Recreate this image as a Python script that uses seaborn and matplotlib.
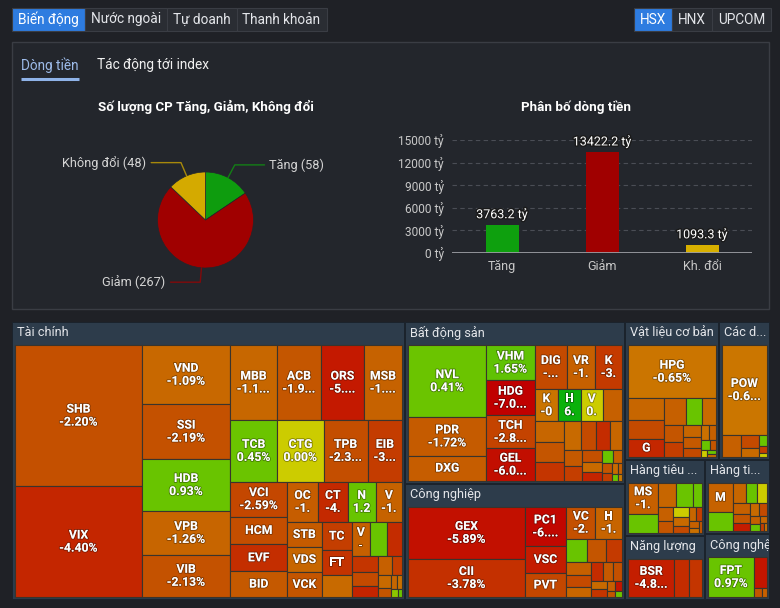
import numpy as np
import matplotlib
matplotlib.use('Agg')
import matplotlib.pyplot as plt
import matplotlib.patheffects as pe
from matplotlib.patches import Rectangle
from matplotlib.font_manager import FontProperties
from matplotlib.colors import to_rgb
from matplotlib.transforms import Bbox
import seaborn as sns

sns.set_style('dark')
FAM = ['Roboto', 'DejaVu Sans']
plt.rcParams['font.family'] = FAM
plt.rcParams['axes.unicode_minus'] = False

W, H = 780, 608
BG = '#1f2126'
PANEL = '#23262c'
HEADER = '#2d3c4b'
TEXT = '#e4e6ea'

# ---------------- data ----------------
top_tabs = ['Biến động', 'Nước ngoài', 'Tự doanh', 'Thanh khoản']
exch_tabs = ['HSX', 'HNX', 'UPCOM']
sub_tabs = ['Dòng tiền', 'Tác động tới index']

pie_title = 'Số lượng CP Tăng, Giảm, Không đổi'
pie_labels = ['Tăng', 'Giảm', 'Không đổi']
pie_counts = [58, 267, 48]
pie_colors = ['#0e9c0e', '#a00000', '#d4aa00']

bar_title = 'Phân bố dòng tiền'
flow_labels = ['Tăng', 'Giảm', 'Kh. đổi']
flow_values = [3763.2, 13422.2, 1093.3]
flow_colors = ['#0ea00e', '#a00000', '#d8b000']
bar_ticks = [0, 3000, 6000, 9000, 12000, 15000]

# treemap: one set of arrays per sector
tc_tickers = ['SHB', 'VIX', 'VND', 'SSI', 'HDB', 'VPB', 'VIB', 'MBB', 'ACB', 'ORS', 'MSB',
              'TCB', 'CTG', 'TPB', 'EIB', 'VCI', 'HCM', 'EVF', 'BID', 'OC', 'CT', 'N', 'V',
              'STB', 'VDS', 'VCK', 'TC', 'FT', '', 'V'] + [''] * 13
tc_values = [19500, 15300, 5700, 5220, 5030, 4160, 4070, 3800, 3630, 3470, 3150, 3140, 3120,
             2930, 2320, 2160, 1720, 1660, 1600, 1350, 1310, 1220, 1170, 935, 935, 935, 920,
             820, 725, 660, 640, 550, 460, 395, 330, 275, 220, 175, 130, 100, 75, 55, 40]
tc_pct = [-2.20, -4.40, -1.09, -2.19, 0.93, -1.26, -2.13, -1.15, -1.93, -5.20, -1.40, 0.45,
          0.00, -2.30, -3.10, -2.59, -2.30, -3.90, -1.80, -1.60, -4.20, 1.20, -1.40, -1.70,
          -1.20, -2.00, -3.00, -3.60, -1.00, -1.50, 1.00, -4.00, -3.50, -2.50, -4.50, -1.50,
          -3.00, -1.00, -2.00, -1.20, -0.80, 0.20, 1.00]

bds_tickers = ['NVL', 'PDR', 'DXG', 'VHM', 'HDG', 'TCH', 'GEL', 'DIG', 'VR', 'K', 'K', 'H',
               'V', ''] + [''] * 20
bds_values = [6700, 3540, 2330, 2030, 2020, 1920, 1860, 1680, 1480, 1420, 900, 870, 830, 725,
              750, 700, 630, 580, 520, 460, 410, 360, 315, 280, 240, 205, 170, 145, 120, 97,
              73, 60, 48, 36]
bds_pct = [0.41, -1.72, -1.60, 1.65, -7.00, -2.80, -6.00, -2.50, -1.50, -3.20, -0.70, 6.00,
           0.00, -1.20, -1.50, -2.00, -3.50, -1.00, -2.50, -4.00, -1.20, -1.80, -3.00, -2.20,
           -1.00, -4.50, 0.90, -1.50, -2.00, -3.00, -1.00, -1.50, 0.30, -0.50]

cn_tickers = ['GEX', 'CII', 'PC1', 'VSC', 'PVT', 'VC', 'H'] + [''] * 15
cn_values = [7820, 5680, 2120, 1450, 1290, 1190, 1100, 625, 545, 495, 430, 375, 325, 285, 245,
             210, 170, 145, 115, 90, 70, 52]
cn_pct = [-5.89, -3.78, -6.50, -5.00, -2.60, -2.20, -1.30, 1.00, -2.00, -3.20, -1.50, -2.50,
          -1.20, -4.00, -1.80, -2.20, -1.00, -3.50, -1.50, -5.50, -2.00, 0.80]

vl_tickers = ['HPG', '', '', 'G'] + [''] * 15
vl_values = [5990, 1005, 900, 800, 720, 540, 465, 400, 350, 295, 245, 205, 170, 130, 105, 77,
             58, 45, 32]
vl_pct = [-0.65, -1.20, -2.50, -4.30, -1.50, 1.00, -1.00, -2.00, -3.00, -1.20, -1.80, -2.50,
          -0.80, -1.50, 1.00, -2.00, 0.00, 1.20, -1.00]

dv_tickers = ['POW', '', '', '', '', '', '']
dv_values = [5500, 560, 330, 200, 120, 66, 40]
dv_pct = [-0.62, -1.50, -2.50, -1.00, 1.00, -3.00, 0.00]

h1_tickers = ['MS'] + [''] * 14
h1_values = [1485, 890, 725, 660, 365, 330, 280, 250, 215, 180, 150, 125, 100, 75, 58]
h1_pct = [-1.50, 0.90, -1.20, 0.80, 0.60, -1.50, -2.00, 0.00, -1.00, -2.50, -1.20, -3.00,
          -1.50, -0.80, -2.00]

h2_tickers = ['M'] + [''] * 14
h2_values = [1210, 780, 445, 375, 330, 300, 255, 225, 195, 165, 135, 105, 82, 60, 45]
h2_pct = [-1.40, 0.90, -1.20, 1.00, 0.00, -1.50, -2.00, -5.00, -1.00, -2.50, -1.50, 1.00,
          -1.20, -3.00, -0.80]

nl_tickers = ['BSR', '', '']
nl_values = [3120, 970, 900]
nl_pct = [-4.85, -4.00, -3.50]

it_tickers = ['FPT', '', '', '']
it_values = [3250, 700, 130, 80]
it_pct = [0.97, -5.50, -2.00, -1.50]

sectors = [
    ('Tài chính', tc_tickers, tc_values, tc_pct),
    ('Bất động sản', bds_tickers, bds_values, bds_pct),
    ('Công nghiệp', cn_tickers, cn_values, cn_pct),
    ('Vật liệu cơ bản', vl_tickers, vl_values, vl_pct),
    ('Các dịch vụ hạ tầng', dv_tickers, dv_values, dv_pct),
    ('Hàng tiêu dùng thiết yếu', h1_tickers, h1_values, h1_pct),
    ('Năng lượng', nl_tickers, nl_values, nl_pct),
    ('Hàng tiêu dùng không thiết yếu', h2_tickers, h2_values, h2_pct),
    ('Công nghệ', it_tickers, it_values, it_pct),
]

# colour scale for % change
color_stops = [-7, -5, -4, -3, -2, -1, -0.5, 0, 0.3, 1.5, 3, 7]
color_list = ['#c00000', '#c41c00', '#c42c00', '#c43e00', '#c45500', '#c86a00', '#cc7a00',
              '#cccc00', '#6cc400', '#66c400', '#2db22d', '#00b000']
stop_rgb = np.array([to_rgb(c) for c in color_list])


def pct_color(p):
    return tuple(np.interp(p, color_stops, stop_rgb[:, k]) for k in range(3))


PHI = (1 + 5 ** 0.5) / 2


def squarify(values, x0, y0, x1, y1):
    # d3-style squarified treemap (golden ratio), y grows downwards
    order = sorted(range(len(values)), key=lambda i: -values[i])
    vals = [values[i] for i in order]
    rects = [None] * len(values)
    total = float(sum(vals))
    n = len(vals)
    i0 = 0
    while i0 < n:
        dx, dy = max(x1 - x0, 1e-6), max(y1 - y0, 1e-6)
        s = vals[i0]
        vmin = vmax = s
        alpha = max(dy / dx, dx / dy) / (total * PHI)
        beta = s * s * alpha
        best = max(vmax / beta, beta / vmin)
        i1 = i0 + 1
        while i1 < n:
            v = vals[i1]
            s2 = s + v
            beta = s2 * s2 * alpha
            r = max(max(vmax, v) / beta, beta / min(vmin, v))
            if r > best:
                break
            s, best = s2, r
            vmin, vmax = min(vmin, v), max(vmax, v)
            i1 += 1
        if dx < dy:
            yb = y0 + dy * s / total
            xx = x0
            for k in range(i0, i1):
                w = dx * vals[k] / s
                rects[order[k]] = (xx, y0, w, yb - y0)
                xx += w
            y0 = yb
        else:
            xb = x0 + dx * s / total
            yy = y0
            for k in range(i0, i1):
                h = dy * vals[k] / s
                rects[order[k]] = (x0, yy, xb - x0, h)
                yy += h
            x0 = xb
        total -= s
        i0 = i1
    return rects


# ---------------- figure ----------------
fig = plt.figure(figsize=(W / 100, H / 100), dpi=100, facecolor=BG)
ax = fig.add_axes([0, 0, 1, 1])
ax.set_xlim(0, W)
ax.set_ylim(H, 0)
ax.axis('off')
renderer = fig.canvas.get_renderer()

fp_tab = FontProperties(family=FAM, size=9.8)
fp_head = FontProperties(family=FAM, size=9.2)
fp_tile = FontProperties(family=FAM, weight='bold', size=8.8)


def text_w(s, fp):
    return renderer.get_text_width_height_descent(s, fp, ismath=False)[0]


def fit(s, maxw, fp, ellip):
    if text_w(s, fp) <= maxw:
        return s
    if ellip:
        for k in range(len(s) - 1, 0, -1):
            if text_w(s[:k] + '...', fp) <= maxw:
                return s[:k] + '...'
    for k in range(len(s) - 1, 0, -1):
        if text_w(s[:k], fp) <= maxw:
            return s[:k]
    return ''


def box(x, y, w, h, fc, ec='none', lw=0, z=1):
    ax.add_patch(Rectangle((x, y), w, h, facecolor=fc, edgecolor=ec, linewidth=lw, zorder=z))


def px_axes(x0, y0, x1, y1):
    return fig.add_axes([x0 / W, 1 - y1 / H, (x1 - x0) / W, (y1 - y0) / H])


TAB_PAD = 12


def draw_tabs(labels, x_start, selected=0):
    x = x_start
    for i, lab in enumerate(labels):
        w = text_w(lab, fp_tab) + TAB_PAD
        box(x, 8, w, 23, '#2e7ce0' if i == selected else '#2a2d33', ec='#3a3d44', lw=0.8)
        ax.text(x + w / 2, 19.5, lab, fontproperties=fp_tab, color='white' if i == selected else TEXT,
                ha='center', va='center', zorder=3)
        x += w


draw_tabs(top_tabs, 12)
exch_w = sum(text_w(s, fp_tab) + TAB_PAD for s in exch_tabs)
draw_tabs(exch_tabs, 771 - exch_w)

# panel with the two charts
box(12, 42, 757, 267, PANEL, ec='#3a3d44', lw=1)
ax.text(21, 65, sub_tabs[0], fontproperties=fp_tab, color='#9dbbe9', va='center', zorder=3)
ax.plot([21, 21 + text_w(sub_tabs[0], fp_tab)], [78.5, 78.5], color='#8fb3e8', lw=2.2,
        solid_capstyle='butt', zorder=3)
ax.text(97, 65, sub_tabs[1], fontproperties=fp_tab, color='#f0f0f0', va='center', zorder=3)
ax.text(205.5, 107, pie_title, fontsize=9.6, fontweight='bold', color='white',
        ha='center', va='center', zorder=3)
ax.text(576, 107, bar_title, fontsize=9.6, fontweight='bold', color='white',
        ha='center', va='center', zorder=3)

# pie
R = 48.0
axp = px_axes(55, 145, 356, 295)
wedges, _ = axp.pie(pie_counts, colors=pie_colors, startangle=90, counterclock=False,
                    radius=1, wedgeprops=dict(edgecolor=PANEL, linewidth=0.5))
axp.set_aspect('auto')
axp.set_xlim(-150.5 / R, 150.5 / R)
axp.set_ylim(-75 / R, 75 / R)
axp.axis('off')
for wdg, lab, cnt, col in zip(wedges, pie_labels, pie_counts, pie_colors):
    a = np.deg2rad((wdg.theta1 + wdg.theta2) / 2)
    c, s = np.cos(a), np.sin(a)
    side = 1 if c >= 0 else -1
    ex, ey = 1.3 * c, 1.3 * s
    axp.plot([c, ex, ex + side * 0.62], [s, ey, ey], color=col, lw=1, alpha=0.75,
             clip_on=False)
    axp.text(ex + side * 0.72, ey, f'{lab} ({cnt})', color='#d4d4d4', fontsize=9.2,
             ha='left' if side > 0 else 'right', va='center', clip_on=False)

# bars
axb = px_axes(452, 140, 752, 253)
sns.barplot(x=flow_labels, y=flow_values, hue=flow_labels, palette=flow_colors, width=0.33,
            saturation=1, legend=False, edgecolor='none', linewidth=0, ax=axb)
axb.set_facecolor('none')
axb.set_ylim(0, 15000)
axb.set_xlim(-0.5, 2.5)
axb.set_yticks(bar_ticks)
axb.set_yticklabels([f'{t} tỷ' for t in bar_ticks])
axb.grid(axis='y', color='#4a4d55', linestyle=(0, (4, 3)), linewidth=0.8)
axb.grid(axis='x', visible=False)
axb.set_axisbelow(True)
axb.axhline(0, color='#9a9ca2', lw=1.3, zorder=3)
for sp in axb.spines.values():
    sp.set_visible(False)
axb.tick_params(axis='y', length=0, pad=6, labelsize=8.6, labelcolor='#c8c8c8')
axb.tick_params(axis='x', length=0, pad=5, labelsize=9, labelcolor='#c8c8c8')
axb.set_xlabel('')
axb.set_ylabel('')
for i, v in enumerate(flow_values):
    axb.annotate(f'{v} tỷ', (i, v), xytext=(0, 7.5), textcoords='offset points',
                 ha='center', va='center', fontsize=9, color='white', annotation_clip=False,
                 path_effects=[pe.withStroke(linewidth=2, foreground='#1a1a1a')])

# treemap
RX0, RY0, RX1, RY1 = 12, 322, 770, 600
box(RX0, RY0, RX1 - RX0, RY1 - RY0, '#1b232c')
sec_rects = squarify([sum(v) for _, _, v, _ in sectors], RX0, RY0, RX1, RY1)
stroke = [pe.withStroke(linewidth=1.3, foreground=(0, 0, 0, 0.35))]
for (name, tickers, vals, pcts), (x, y, w, h) in zip(sectors, sec_rects):
    x0, y0, x1, y1 = x + 1, y + 1, x + w - 1, y + h - 1
    box(x0, y0, x1 - x0, y1 - y0, HEADER, z=2)
    avail = x1 - x0 - 6
    if text_w(name, fp_head) - avail < 8:
        lab = name
    else:
        lab = fit(name, avail, fp_head, True)
    t = ax.text(x0 + 4, y0 + 10, lab, fontproperties=fp_head, color=TEXT, va='center', zorder=3)
    d0 = ax.transData.transform((x0, y1))
    d1 = ax.transData.transform((x1, y0))
    t.set_clip_box(Bbox.from_extents(d0[0], d0[1], d1[0], d1[1]))
    t.set_clip_on(True)
    tiles = squarify(vals, x0 + 2, y0 + 22, x1 - 2, y1 - 2)
    for tk, p, (tx, ty, tw, th) in zip(tickers, pcts, tiles):
        ax.add_patch(Rectangle((tx, ty), tw, th, facecolor=pct_color(p), edgecolor='#3a342c',
                               linewidth=0.8, zorder=4))
        if not tk or tw < 12 or th < 16:
            continue
        ellip = tw >= 32
        s = fit(tk, tw - 6, fp_tile, ellip)
        if th >= 30:
            s2 = fit(f'{p:.2f}%', tw - 10, fp_tile, ellip)
            if s2:
                s = s + '\n' + s2
        ax.text(tx + tw / 2, ty + th / 2, s, fontproperties=fp_tile, color='white',
                ha='center', va='center', linespacing=1.0, zorder=5, path_effects=stroke)

fig.savefig('out.png', dpi=100, facecolor=BG)
